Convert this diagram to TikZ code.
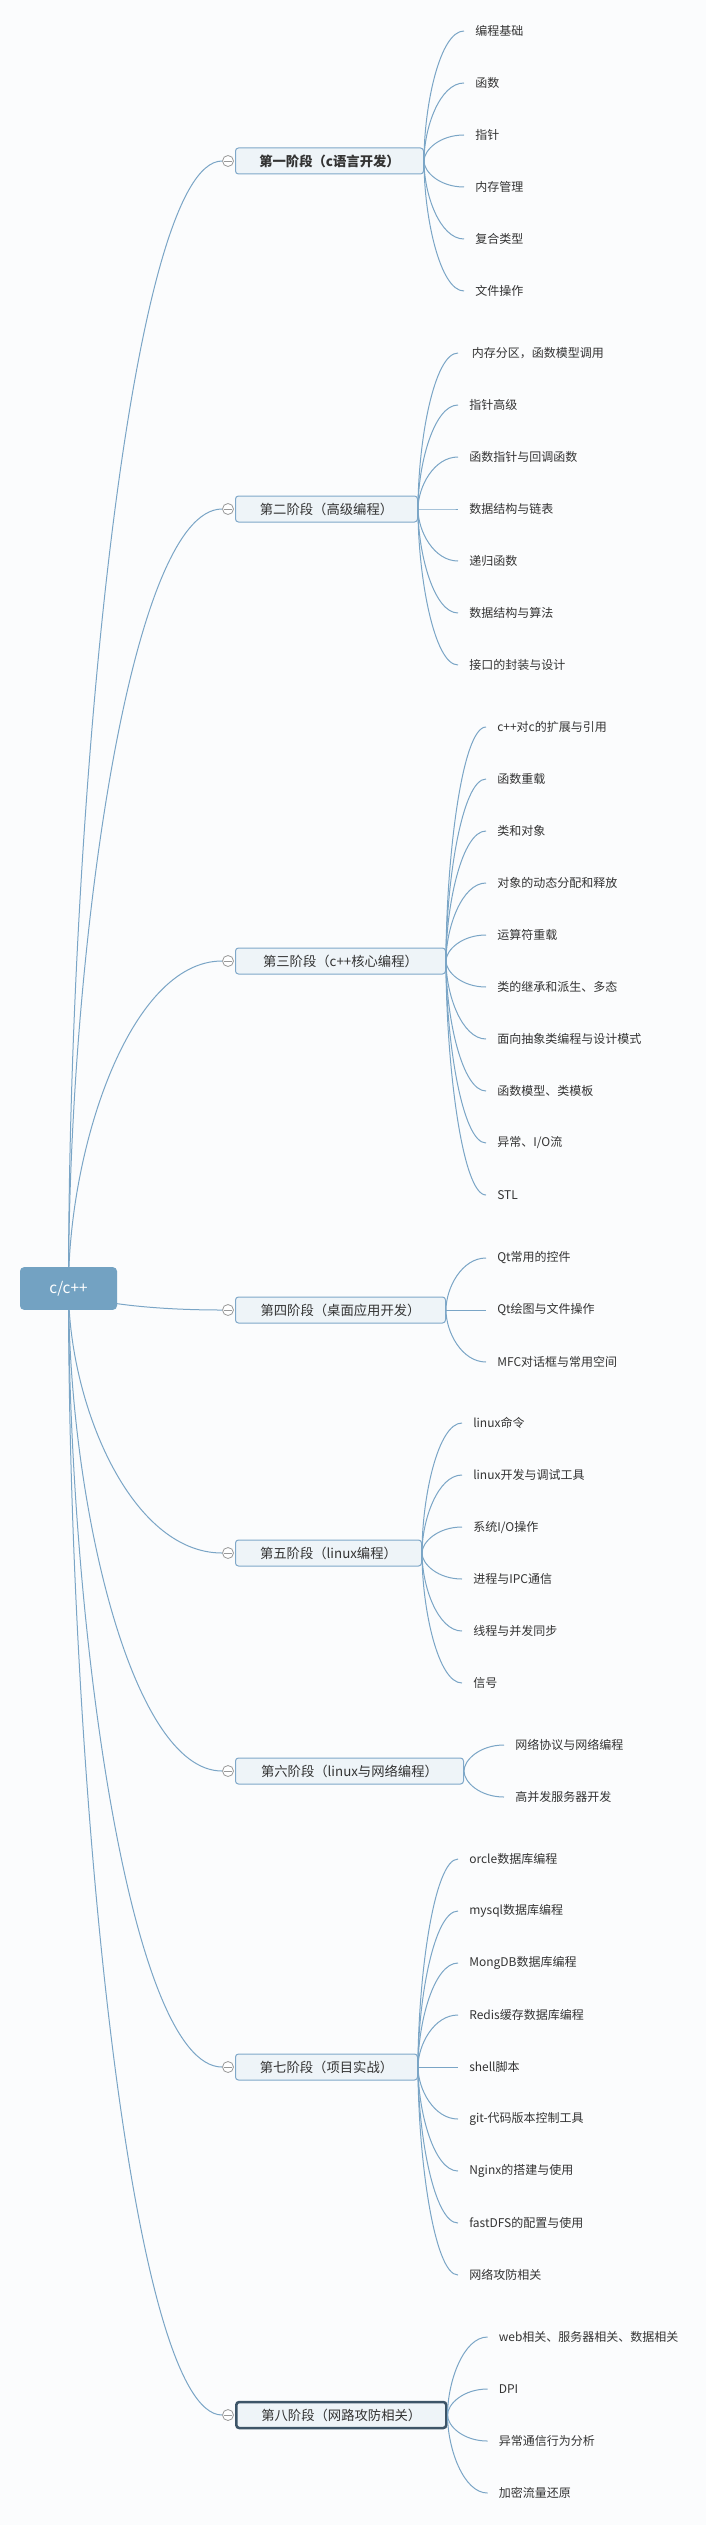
\documentclass[tikz,border=0pt]{standalone}
\usepackage{fontspec}
\setmainfont{Noto Sans CJK SC}
\usepackage{xcolor}
\usepackage{tikz}
\usetikzlibrary{calc}

\definecolor{linec}{HTML}{7AA5C6}
\definecolor{boxfill}{HTML}{EEF4F8}
\definecolor{boxline}{HTML}{7FA8C9}
\definecolor{rootfill}{HTML}{73A2C2}
\definecolor{selline}{HTML}{3D5568}
\definecolor{ink}{HTML}{333333}
\definecolor{paper}{HTML}{FBFCFD}

\tikzset{
    branch/.style={draw=linec, line width=0.75pt,
        to path={let \p1=(\tikztostart), \p2=(\tikztotarget) in
            .. controls (\x1,{\y1+0.43*(\y2-\y1)}) and ({\x1+0.4*(\x2-\x1)},\y2) .. (\tikztotarget)}}
}

\begin{document}
\begin{tikzpicture}[x=0.75pt, y=-0.75pt,
    stagebox/.style={draw=boxline, fill=boxfill, line width=0.75pt, rounded corners=2.25pt,
        anchor=west, minimum height=19.5pt, inner sep=0pt, text=ink, font=\fontsize{10}{12}\selectfont},
    stagesel/.style={stagebox, draw=selline, line width=1.9pt},
    fold/.style={circle, draw=gray!80, fill=white, line width=0.6pt, minimum size=8.25pt, inner sep=0pt},
    leaf/.style={anchor=west, inner xsep=8.25pt, inner ysep=0pt, text=ink, font=\fontsize{9}{11}\selectfont},
    topic/.style={fill=rootfill, rounded corners=3pt, minimum width=72.75pt, minimum height=32pt,
        text=white, font=\fontsize{11.5}{13}\selectfont}]
    \useasboundingbox (0,0) rectangle (706,2525);
    % Page
    \fill[paper] (0,0) rectangle (706,2525);

    % Stages with their topics
    \foreach \s/\ys/\bw/\nk/\sty/\lbl/\kids in {
        1/161/188/6/stagebox/{\textbf{第一阶段（c语言开发）}}/{编程基础,函数,指针,内存管理,复合类型,文件操作},
        2/509/182/7/stagebox/{第二阶段（高级编程）}/{\ 内存分区，函数模型调用,指针高级,函数指针与回调函数,数据结构与链表,递归函数,数据结构与算法,接口的封装与设计},
        3/961/210/10/stagebox/{第三阶段（c++核心编程）}/{c++对c的扩展与引用,函数重载,类和对象,对象的动态分配和释放,运算符重载,类的继承和派生、多态,面向抽象类编程与设计模式,函数模型、类模板,异常、I/O流,STL},
        4/1310/210/3/stagebox/{第四阶段（桌面应用开发）}/{Qt常用的控件,Qt绘图与文件操作,MFC对话框与常用空间},
        5/1553/186/6/stagebox/{第五阶段（linux编程）}/{linux命令,linux开发与调试工具,系统I/O操作,进程与IPC通信,线程与并发同步,信号},
        6/1771/228/2/stagebox/{第六阶段（linux与网络编程）}/{网络协议与网络编程,高并发服务器开发},
        7/2067/182/9/stagebox/{第七阶段（项目实战）}/{orcle数据库编程,mysql数据库编程,MongDB数据库编程,Redis缓存数据库编程,shell脚本,git-代码版本控制工具,Nginx的搭建与使用,fastDFS的配置与使用,网络攻防相关},
        8/2415/210/4/stagesel/{第八阶段（网路攻防相关）}/{web相关、服务器相关、数据相关,DPI,异常通信行为分析,加密流量还原}}{
        \node[fold] (m\s) at (228,\ys) {};
        \draw[gray!80, line width=0.6pt] ([xshift=1.5pt]m\s.west) -- ([xshift=-1.5pt]m\s.east);
        \node[\sty, minimum width=\bw*0.75pt] (s\s) at (235,\ys) {\lbl};
        \foreach \t [count=\j] in \kids {
            \node[leaf] (s\s-\j) at ($(s\s.east)+(40,{(\j-(\nk+1)/2)*52})$) {\t};
            \draw[branch] (s\s.east) to (s\s-\j.west);
        }
    }

    % Central topic
    \coordinate (hub) at (68.5,1288.5);
    \foreach \s in {1,...,8}
        \draw[branch] (hub) to (m\s.west);
    \node[topic] (root) at (hub) {c/c++};
\end{tikzpicture}
\end{document}
